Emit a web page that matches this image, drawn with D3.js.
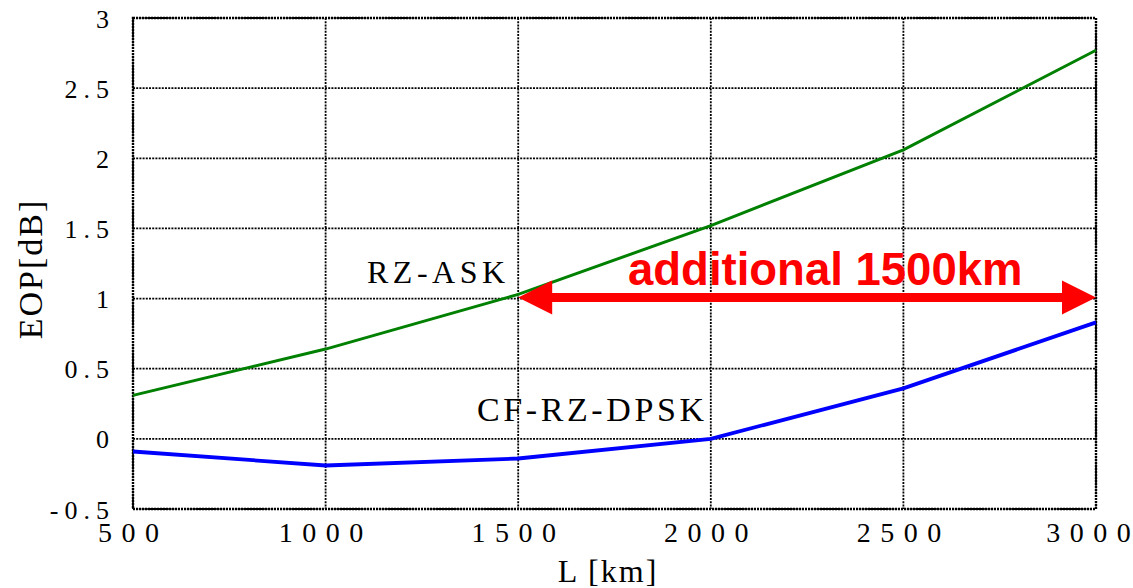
<!DOCTYPE html>
<html><head><meta charset="utf-8">
<script src="https://cdn.jsdelivr.net/npm/d3@7"></script>
<style>body{margin:0;background:#fff}svg{display:block}</style>
</head><body>
<svg id="c" width="1133" height="588"></svg>
<script>
const distances = [500, 1000, 1500, 2000, 2500, 3000];
const rzAsk = [0.31, 0.64, 1.03, 1.52, 2.06, 2.77];
const cfRzDpsk = [-0.09, -0.19, -0.14, 0.0, 0.36, 0.83];
const xTicks = [500, 1000, 1500, 2000, 2500, 3000];
const yTicks = [-0.5, 0, 0.5, 1, 1.5, 2, 2.5, 3];
const yTickLabels = ["-0.5", "0", "0.5", "1", "1.5", "2", "2.5", "3"];
const arrowSpan = [1500, 3000];
const arrowLevel = 1.0;

const svg = d3.select("#c");
const m = {l:133, r:1096, t:18, b:509};
const x = d3.scaleLinear().domain([500,3000]).range([m.l, m.r]);
const y = d3.scaleLinear().domain([-0.5,3]).range([m.b, m.t]);
const serif = "'Liberation Serif','Times New Roman',serif";

// split a label so spacing is only between characters (no trailing gap)
function spaced(sel, ls) {
  sel.each(function() {
    const t = d3.select(this), s = t.text();
    t.text(null);
    if (s.length > 1) t.append("tspan").attr("letter-spacing", ls + "px").text(s.slice(0, -1));
    t.append("tspan").attr("letter-spacing", "0px").text(s.slice(-1));
  });
}

// grid
const grid = svg.append("g").attr("stroke","#000").attr("stroke-width",1.8).attr("stroke-dasharray","2,1.2").attr("fill","none");
xTicks.forEach(v => grid.append("line").attr("x1",x(v)).attr("x2",x(v)).attr("y1",m.t).attr("y2",m.b));
yTicks.forEach(v => grid.append("line").attr("x1",m.l).attr("x2",m.r).attr("y1",y(v)).attr("y2",y(v)));
// frame
svg.append("rect").attr("x",m.l).attr("y",m.t).attr("width",m.r-m.l).attr("height",m.b-m.t)
  .attr("fill","none").attr("stroke","#000").attr("stroke-width",2.4).attr("stroke-dasharray","2,1");

// y axis labels
const yAxis = d3.axisLeft(y).tickValues(yTicks).tickSize(0).tickPadding(0)
  .tickFormat((d,i) => yTickLabels[i]);
const gy = svg.append("g").attr("transform",`translate(${m.l-24},0)`).call(yAxis);
gy.select(".domain").remove();
gy.selectAll("text").attr("font-family",serif).attr("font-size",26).attr("fill","#000")
  .attr("dy","0.35em").call(spaced, 6);

// x axis labels
const xAxis = d3.axisBottom(x).tickValues(xTicks).tickSize(0).tickPadding(0).tickFormat(d3.format("d"));
const gx = svg.append("g").attr("transform",`translate(0,${m.b+8})`).call(xAxis);
gx.select(".domain").remove();
gx.selectAll("text").attr("font-family",serif).attr("font-size",28).attr("fill","#000")
  .attr("dy","0.9em")
  .attr("dx",(d,i)=> i===xTicks.length-1 ? -8 : -5)
  .call(spaced, 9.5);

// axis titles
svg.append("text").attr("x",608).attr("y",582).attr("text-anchor","middle")
  .attr("font-family",serif).attr("font-size",32).attr("letter-spacing","2px").text("L [km]");
svg.append("text").attr("transform","translate(42,269) rotate(-90)").attr("text-anchor","middle")
  .attr("font-family",serif).attr("font-size",34).attr("letter-spacing","2px").text("EOP[dB]");

// lines
const line = d3.line().x(d=>x(d[0])).y(d=>y(d[1]));
svg.append("path").datum(distances.map((d,i)=>[d,rzAsk[i]])).attr("d",line)
  .attr("fill","none").attr("stroke","#008000").attr("stroke-width",3);
svg.append("path").datum(distances.map((d,i)=>[d,cfRzDpsk[i]])).attr("d",line)
  .attr("fill","none").attr("stroke","#0000ff").attr("stroke-width",3.8);

// labels
svg.append("text").attr("x",367).attr("y",283).attr("font-family",serif).attr("font-size",32)
  .attr("letter-spacing","4.5px").text("RZ-ASK");
svg.append("text").attr("x",477).attr("y",421).attr("font-family",serif).attr("font-size",34)
  .attr("letter-spacing","3.6px").text("CF-RZ-DPSK");

// arrow
const ax1 = x(arrowSpan[0]), ax2 = x(arrowSpan[1]), ay = y(arrowLevel) - 1;
const red = "#ff0000";
svg.append("line").attr("x1",ax1+20).attr("x2",ax2-20).attr("y1",ay).attr("y2",ay)
  .attr("stroke",red).attr("stroke-width",9);
svg.append("path").attr("d",`M${ax1},${ay} L${ax1+34},${ay-17} L${ax1+34},${ay+17} Z`).attr("fill",red);
svg.append("path").attr("d",`M${ax2},${ay} L${ax2-34},${ay-17} L${ax2-34},${ay+17} Z`).attr("fill",red);
svg.append("text").attr("x",628).attr("y",285).attr("font-family","'Liberation Sans',Arial,sans-serif")
  .attr("font-weight","bold").attr("font-size",45.5).attr("fill",red).text("additional 1500km");
</script>
</body></html>
